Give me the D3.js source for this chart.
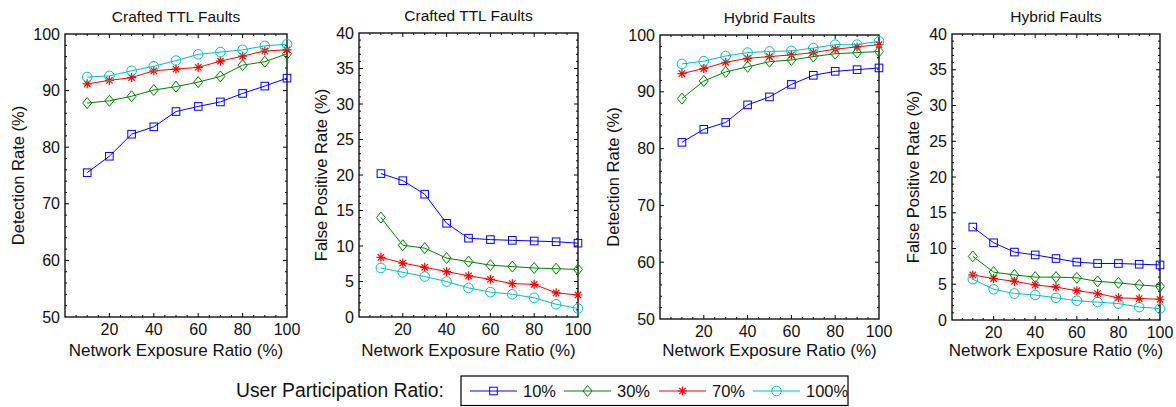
<!DOCTYPE html>
<html>
<head>
<meta charset="utf-8">
<script src="https://cdn.jsdelivr.net/npm/d3@7"></script>
<style>
  body { margin: 0; background: #fff; }
  text { font-family: "Liberation Sans", Arial, sans-serif; fill: #111; }
</style>
</head>
<body>
<svg id="chart" width="1176" height="407"></svg>
<script>
// exposure ratio on x
var exposure = [10, 20, 30, 40, 50, 60, 70, 80, 90, 100];
var seriesNames = ["10%", "30%", "70%", "100%"];
var seriesColors = ["#0000ff", "#008000", "#ff0000", "#00bfbf"];
var seriesMarkers = ["square", "diamond", "star", "circle"];

// crafted TTL faults, detection rate
var craftedDet10 = [75.5, 78.4, 82.3, 83.6, 86.3, 87.2, 88.0, 89.5, 90.8, 92.2];
var craftedDet30 = [87.8, 88.2, 89.0, 90.1, 90.7, 91.5, 92.5, 94.5, 95.1, 96.5];
var craftedDet70 = [91.2, 91.8, 92.3, 93.5, 93.8, 94.1, 95.2, 96.1, 97.0, 97.2];
var craftedDet100 = [92.4, 92.6, 93.5, 94.3, 95.3, 96.4, 96.8, 97.2, 97.9, 98.2];

// crafted TTL faults, false positive rate
var craftedFp10 = [20.2, 19.2, 17.3, 13.2, 11.1, 10.9, 10.8, 10.7, 10.6, 10.4];
var craftedFp30 = [14.0, 10.1, 9.7, 8.3, 7.8, 7.3, 7.1, 6.9, 6.8, 6.7];
var craftedFp70 = [8.4, 7.6, 7.0, 6.4, 5.8, 5.3, 4.7, 4.6, 3.4, 3.1];
var craftedFp100 = [6.9, 6.3, 5.7, 5.0, 4.1, 3.5, 3.2, 2.7, 1.8, 1.2];

// hybrid faults, detection rate
var hybridDet10 = [81.1, 83.4, 84.6, 87.7, 89.1, 91.3, 92.9, 93.6, 93.9, 94.2];
var hybridDet30 = [88.8, 91.9, 93.5, 94.4, 95.3, 95.6, 96.2, 96.7, 96.9, 97.1];
var hybridDet70 = [93.2, 94.1, 95.2, 95.9, 96.2, 96.5, 96.9, 97.5, 97.9, 98.3];
var hybridDet100 = [94.9, 95.4, 96.3, 96.9, 97.1, 97.2, 97.7, 98.3, 98.3, 98.9];

// hybrid faults, false positive rate
var hybridFp10 = [13.0, 10.8, 9.5, 9.1, 8.6, 8.1, 7.9, 7.9, 7.8, 7.7];
var hybridFp30 = [8.9, 6.7, 6.3, 6.0, 6.0, 5.9, 5.4, 5.2, 4.9, 4.7];
var hybridFp70 = [6.3, 5.8, 5.4, 4.9, 4.6, 4.1, 3.7, 3.1, 3.0, 2.9];
var hybridFp100 = [5.7, 4.3, 3.7, 3.5, 3.1, 2.7, 2.5, 2.3, 1.8, 1.6];

var xTicks = [20, 40, 60, 80, 100];
var detTicks = [50, 60, 70, 80, 90, 100];
var fpTicks = [0, 5, 10, 15, 20, 25, 30, 35, 40];

var panels = [
  {title: "Crafted TTL Faults", ylabel: "Detection Rate (%)", ydom: [50, 100], yticks: detTicks, minor: 2,
   box: [65, 34, 287, 317], ylabX: 18, series: [craftedDet10, craftedDet30, craftedDet70, craftedDet100]},
  {title: "Crafted TTL Faults", ylabel: "False Positive Rate (%)", ydom: [0, 40], yticks: fpTicks, minor: 1,
   box: [359, 33, 578, 317], ylabX: 321, series: [craftedFp10, craftedFp30, craftedFp70, craftedFp100]},
  {title: "Hybrid Faults", ylabel: "Detection Rate (%)", ydom: [50, 100], yticks: detTicks, minor: 2,
   box: [660, 35, 879, 319], ylabX: 613, series: [hybridDet10, hybridDet30, hybridDet70, hybridDet100]},
  {title: "Hybrid Faults", ylabel: "False Positive Rate (%)", ydom: [0, 40], yticks: fpTicks, minor: 1,
   box: [952, 34, 1160, 320], ylabX: 913, series: [hybridFp10, hybridFp30, hybridFp70, hybridFp100]}
];

var svg = d3.select("#chart");

function drawMarker(g, kind, color) {
  if (kind == "square") {
    g.append("rect").attr("x", -3.8).attr("y", -3.8).attr("width", 7.6).attr("height", 7.6)
      .attr("fill", "none").attr("stroke", color).attr("stroke-width", 1);
  } else if (kind == "diamond") {
    g.append("path").attr("d", "M0,-5.5L4.5,0L0,5.5L-4.5,0Z")
      .attr("fill", "none").attr("stroke", color).attr("stroke-width", 1);
  } else if (kind == "circle") {
    g.append("circle").attr("r", 4.8)
      .attr("fill", "none").attr("stroke", color).attr("stroke-width", 1);
  } else {
    g.append("path").attr("d", "M-4.5,0H4.5M0,-4.5V4.5M-3.2,-3.2L3.2,3.2M-3.2,3.2L3.2,-3.2")
      .attr("fill", "none").attr("stroke", color).attr("stroke-width", 1.2);
  }
}

panels.forEach(function(p) {
  var x = d3.scaleLinear().domain([0, 100]).range([p.box[0], p.box[2]]);
  var y = d3.scaleLinear().domain(p.ydom).range([p.box[3], p.box[1]]);
  var g = svg.append("g");

  // ticks, inward on all sides
  var minorX = d3.range(5, 100, 5);
  var minorY = d3.range(p.ydom[0] + p.minor, p.ydom[1], p.minor);
  var tk = g.append("g").attr("stroke", "#000").attr("stroke-width", 1);
  minorX.forEach(function(v) {
    var len = (v % 20 == 0) ? 4 : 2;
    tk.append("line").attr("x1", x(v)).attr("x2", x(v)).attr("y1", p.box[3]).attr("y2", p.box[3] - len);
    tk.append("line").attr("x1", x(v)).attr("x2", x(v)).attr("y1", p.box[1]).attr("y2", p.box[1] + len);
  });
  minorY.forEach(function(v) {
    var len = (p.yticks.indexOf(v) >= 0) ? 4 : 2;
    tk.append("line").attr("y1", y(v)).attr("y2", y(v)).attr("x1", p.box[0]).attr("x2", p.box[0] + len);
    tk.append("line").attr("y1", y(v)).attr("y2", y(v)).attr("x1", p.box[2]).attr("x2", p.box[2] - len);
  });

  g.append("rect").attr("x", p.box[0]).attr("y", p.box[1])
    .attr("width", p.box[2] - p.box[0]).attr("height", p.box[3] - p.box[1])
    .attr("fill", "none").attr("stroke", "#000").attr("stroke-width", 1.3);

  g.selectAll(".xt").data(xTicks).enter().append("text")
    .attr("x", function(d) { return x(d); }).attr("y", p.box[3] + 18)
    .attr("text-anchor", "middle").attr("font-size", 16).text(function(d) { return d; });
  g.selectAll(".yt").data(p.yticks).enter().append("text")
    .attr("x", p.box[0] - 5).attr("y", function(d) { return y(d) + 5.5; })
    .attr("text-anchor", "end").attr("font-size", 16).text(function(d) { return d; });

  g.append("text").attr("x", (p.box[0] + p.box[2]) / 2).attr("y", p.box[1] - 12)
    .attr("text-anchor", "middle").attr("font-size", 15.5).text(p.title);
  g.append("text").attr("x", (p.box[0] + p.box[2]) / 2).attr("y", 356)
    .attr("text-anchor", "middle").attr("font-size", 17).text("Network Exposure Ratio (%)");
  g.append("text").attr("transform", "translate(" + (p.ylabX + 6) + "," + ((p.box[1] + p.box[3]) / 2) + ") rotate(-90)")
    .attr("text-anchor", "middle").attr("font-size", 16.5).text(p.ylabel);

  var line = d3.line().x(function(d, i) { return x(exposure[i]); }).y(function(d) { return y(d); });
  p.series.forEach(function(vals, si) {
    g.append("path").datum(vals).attr("d", line)
      .attr("fill", "none").attr("stroke", seriesColors[si]).attr("stroke-width", 1);
    vals.forEach(function(v, i) {
      var m = g.append("g").attr("transform", "translate(" + x(exposure[i]) + "," + y(v) + ")");
      drawMarker(m, seriesMarkers[si], seriesColors[si]);
    });
  });
});

// legend
svg.append("text").attr("x", 236).attr("y", 397).attr("font-size", 19.3).text("User Participation Ratio:");
svg.append("rect").attr("x", 461).attr("y", 376).attr("width", 387).attr("height", 29.5)
  .attr("fill", "#fff").attr("stroke", "#000").attr("stroke-width", 1.2);
var legendX = [470, 564, 659, 753];
seriesNames.forEach(function(name, i) {
  var lx = legendX[i];
  svg.append("line").attr("x1", lx).attr("x2", lx + 47).attr("y1", 391).attr("y2", 391)
    .attr("stroke", seriesColors[i]).attr("stroke-width", 1);
  var m = svg.append("g").attr("transform", "translate(" + (lx + 23.5) + ",391)");
  drawMarker(m, seriesMarkers[i], seriesColors[i]);
  svg.append("text").attr("x", lx + 53).attr("y", 397).attr("font-size", 16.5).text(name);
});
</script>
</body>
</html>
